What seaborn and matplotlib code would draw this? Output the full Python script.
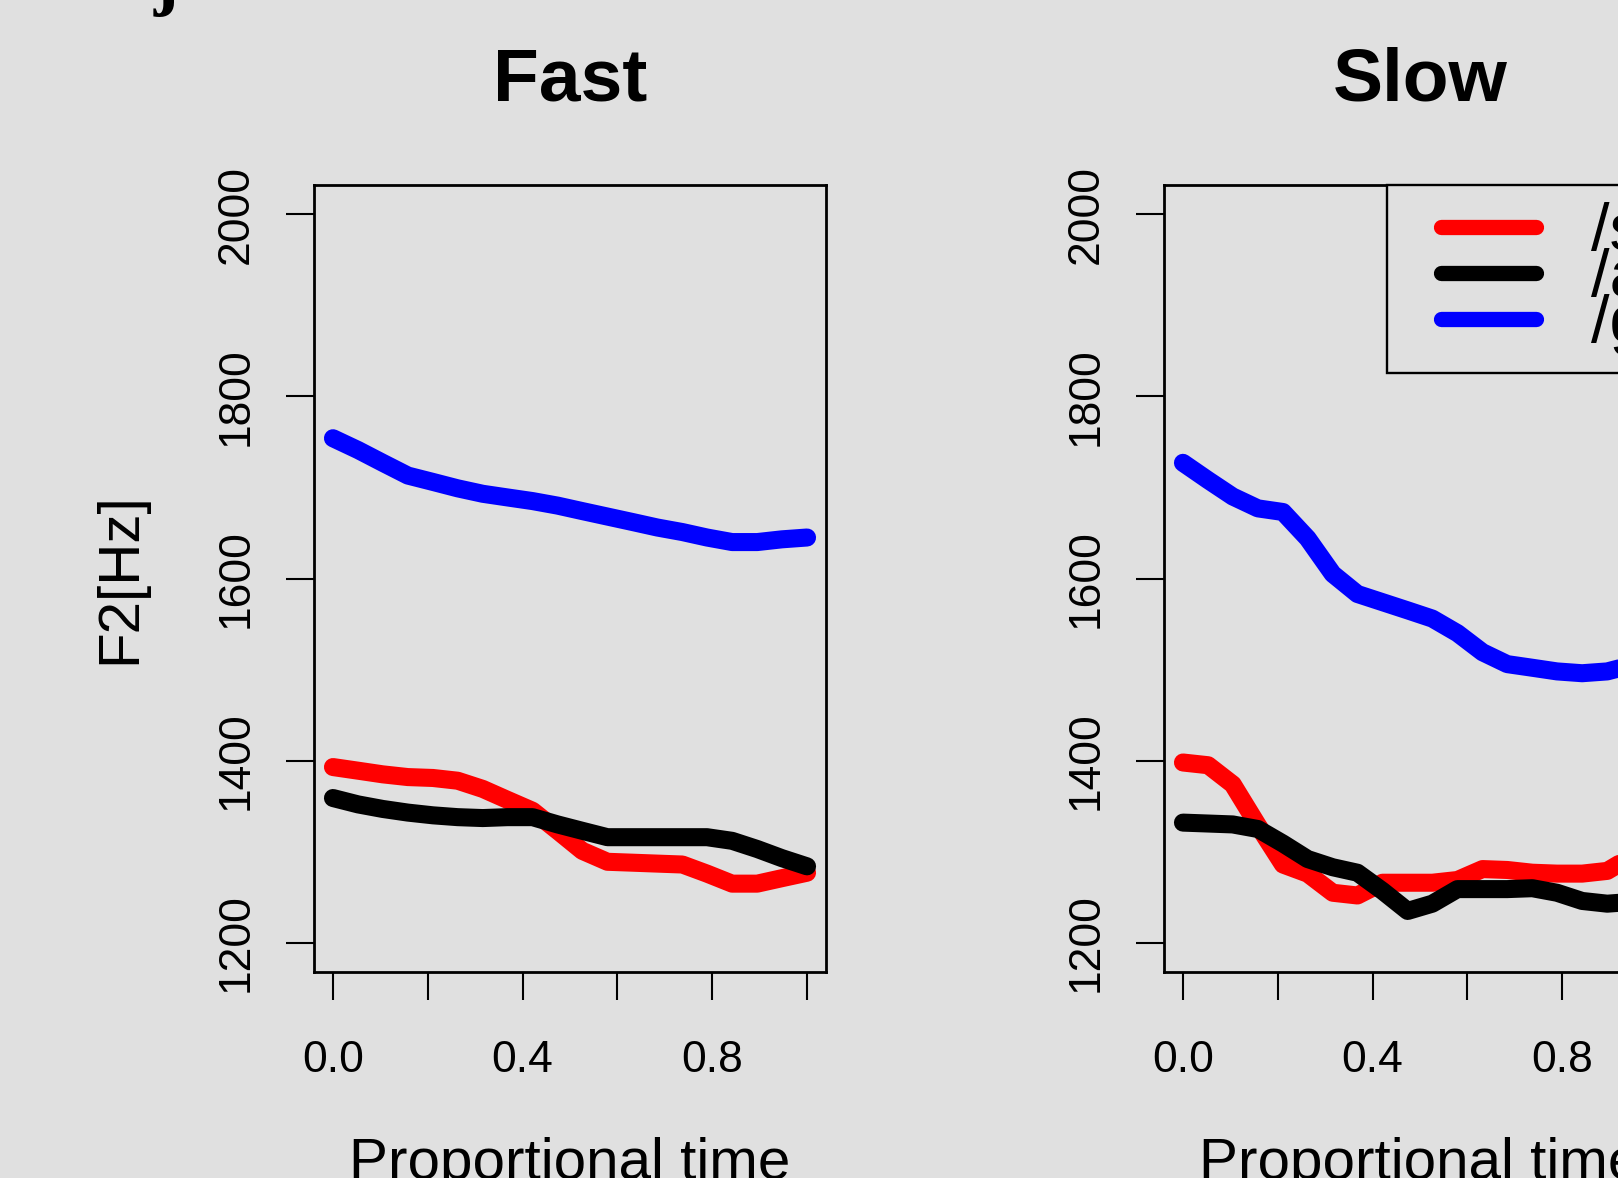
import matplotlib

matplotlib.use("Agg")

import matplotlib.pyplot as plt
import pandas as pd
import seaborn as sns
from matplotlib.legend_handler import HandlerLine2D
from matplotlib.lines import Line2D

# proportional time grid (20 samples)
time = [0.000, 0.053, 0.105, 0.158, 0.211, 0.263, 0.316, 0.368, 0.421, 0.474,
        0.526, 0.579, 0.632, 0.684, 0.737, 0.789, 0.842, 0.895, 0.947, 1.000]

segments = ["/s/", "/a/", "/g/"]
colors = ["#ff0000", "#000000", "#0000ff"]

fast_s = [1393, 1389, 1385, 1382, 1381, 1378, 1369, 1357, 1345, 1323,
          1301, 1289, 1288, 1287, 1286, 1276, 1265, 1265, 1271, 1277]
fast_a = [1359, 1352, 1347, 1343, 1340, 1338, 1337, 1338, 1338, 1330,
          1323, 1316, 1316, 1316, 1316, 1316, 1312, 1303, 1293, 1284]
fast_g = [1754, 1741, 1727, 1713, 1706, 1699, 1693, 1689, 1685, 1680,
          1674, 1668, 1662, 1656, 1651, 1645, 1640, 1640, 1643, 1645]

slow_s = [1398, 1395, 1374, 1329, 1286, 1276, 1255, 1252, 1266, 1266,
          1266, 1269, 1281, 1280, 1277, 1276, 1276, 1279, 1295, 1310]
slow_a = [1332, 1331, 1330, 1325, 1309, 1292, 1283, 1277, 1257, 1235,
          1243, 1259, 1259, 1259, 1260, 1255, 1246, 1243, 1245, 1250]
slow_g = [1727, 1708, 1690, 1677, 1673, 1644, 1605, 1583, 1574, 1565,
          1556, 1540, 1519, 1506, 1502, 1498, 1496, 1498, 1505, 1515]

x_ticks = [0.0, 0.2, 0.4, 0.6, 0.8, 1.0]
x_tick_labels = ["0.0", "", "0.4", "", "0.8", ""]
y_ticks = [1200, 1400, 1600, 1800, 2000]

BG = "#e0e0e0"


def long_frame(series):
    rows = []
    for seg, values in zip(segments, series):
        for t, v in zip(time, values):
            rows.append({"time": t, "f2": v, "segment": seg})
    return pd.DataFrame(rows)


panels = {
    "Fast": long_frame([fast_s, fast_a, fast_g]),
    "Slow": long_frame([slow_s, slow_a, slow_g]),
}

sns.set_theme(style="ticks", rc={
    "figure.facecolor": BG,
    "axes.facecolor": BG,
    "axes.edgecolor": "black",
    "axes.linewidth": 2,
    "axes.labelcolor": "black",
    "text.color": "black",
    "xtick.color": "black",
    "ytick.color": "black",
})
plt.rcParams["font.family"] = ["Liberation Sans", "DejaVu Sans"]

W, H = 1618, 1178
fig = plt.figure(figsize=(W / 100, H / 100), dpi=100)

# axes boxes in pixels (left, top, width, height); right one runs past the edge
boxes = {"Fast": (314, 185, 512, 787), "Slow": (1164, 185, 512, 787)}

axes = {}
for name, (left, top, width, height) in boxes.items():
    ax = fig.add_axes([left / W, (H - top - height) / H, width / W, height / H])
    sns.lineplot(
        data=panels[name], x="time", y="f2", hue="segment",
        hue_order=segments, palette=colors,
        errorbar=None, legend=False, ax=ax,
    )
    for line in ax.get_lines():
        line.set_linewidth(13)
        line.set_solid_capstyle("round")
        line.set_solid_joinstyle("round")
    ax.set_xlim(-0.04, 1.04)
    ax.set_ylim(1168, 2032)
    ax.set_xticks(x_ticks, x_tick_labels)
    ax.set_yticks(y_ticks, [str(v) for v in y_ticks], rotation=90, va="center")
    ax.tick_params(axis="both", length=20, width=1.5, labelsize=32,
                   color="black", labelcolor="black")
    ax.tick_params(axis="x", pad=29)
    ax.tick_params(axis="y", pad=21)
    for spine in ax.spines.values():
        spine.set_visible(True)
        spine.set_linewidth(2)
    ax.set_title(name, fontsize=54, fontweight="bold", pad=61)
    ax.set_xlabel("Proportional time", fontsize=42, va="baseline")
    ax.xaxis.set_label_coords(0.5, -0.263)
    ax.set_ylabel("")
    axes[name] = ax

axes["Fast"].set_ylabel("F2[Hz]", fontsize=42, va="baseline")
axes["Fast"].yaxis.set_label_coords(-0.350, 0.5)

ax = axes["Slow"]
leg = ax.legend(
    handles=ax.get_lines()[:3], labels=segments,
    loc="upper left", bbox_to_anchor=(0.4355, 1.0), borderaxespad=0,
    prop={"size": 48}, numpoints=2, handlelength=2.54, handletextpad=0.26,
    borderpad=0.255, labelspacing=-0.24, fancybox=False, framealpha=1,
    facecolor=BG, edgecolor="black",
    handler_map={Line2D: HandlerLine2D(marker_pad=0.555, numpoints=2)},
)
leg.get_frame().set_linewidth(1.7)
for handle in leg.get_lines():
    handle.set_linewidth(11)

# bottom of a panel letter cut off at the top edge
fig.text(154 / W, 1 - 1 / H, "j", fontsize=54, fontweight="bold",
         family=["Liberation Serif", "DejaVu Serif"], va="baseline")

fig.savefig("out.png", dpi=100, facecolor=BG)
